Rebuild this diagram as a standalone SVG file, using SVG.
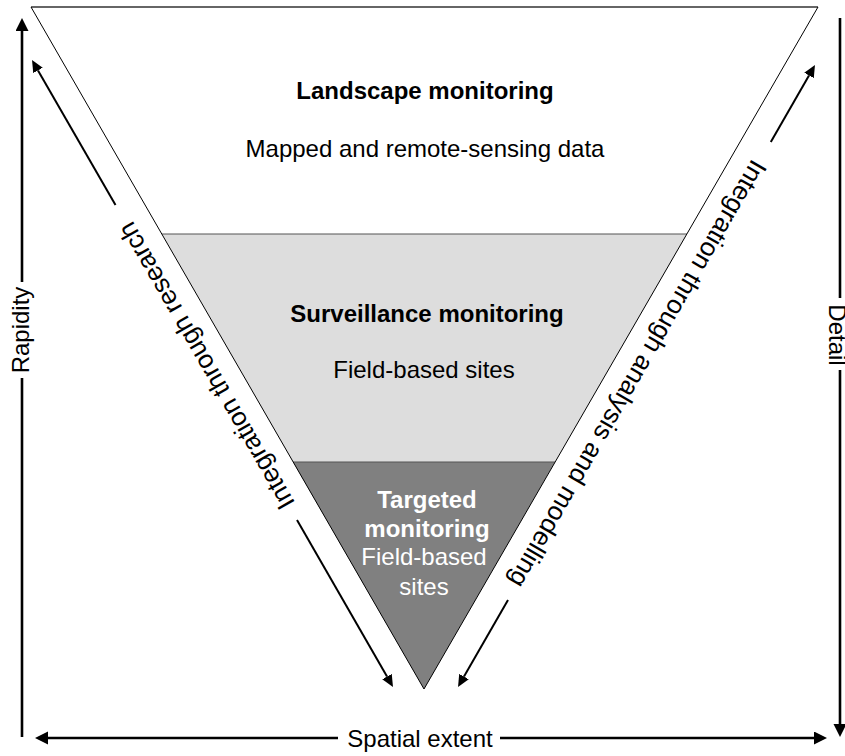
<svg xmlns="http://www.w3.org/2000/svg" width="845" height="756" viewBox="0 0 845 756">
<style>
text{font-family:"Liberation Sans",Arial,sans-serif;font-size:24px;fill:#000}
.b{font-weight:bold}
.w{fill:#fff}
.m{text-anchor:middle}
.d{font-size:26px}
.edge{fill:none;stroke:#000;stroke-width:1}
.div{fill:none;stroke:#555;stroke-width:1.2}
.ax{fill:none;stroke:#000;stroke-width:2.6}
.dg{fill:none;stroke:#000;stroke-width:2}
</style>
<defs>
<marker id="ah" markerUnits="userSpaceOnUse" markerWidth="14" markerHeight="14" refX="0" refY="6.5" orient="auto"><path d="M0,0 L13,6.5 L0,13 z" fill="#000"/></marker>
<marker id="ad" markerUnits="userSpaceOnUse" markerWidth="13" markerHeight="12" refX="0" refY="5.5" orient="auto"><path d="M0,0 L12,5.5 L0,11 z" fill="#000"/></marker>
</defs>
<g id="landscape">
<polygon points="31,7 818,7 687,234 162,234" fill="#fff"/>
<text class="b m" x="425" y="99">Landscape monitoring</text>
<text class="m" x="425" y="157">Mapped and remote-sensing data</text>
</g>
<g id="surveillance">
<polygon points="162,234 687,234 555,462 293,462" fill="#dddddd"/>
<text class="b m" x="427" y="322">Surveillance monitoring</text>
<text class="m" x="424" y="378">Field-based sites</text>
</g>
<g id="targeted">
<polygon points="293,462 555,462 424,689" fill="#808080"/>
<text class="b m w" x="427" y="508">Targeted</text>
<text class="b m w" x="427" y="537">monitoring</text>
<text class="m w" x="424" y="565">Field-based</text>
<text class="m w" x="424" y="595">sites</text>
</g>
<g id="outline">
<line class="div" x1="162" y1="234" x2="687" y2="234"/>
<line class="div" x1="293" y1="462" x2="555" y2="462"/>
<line x1="31" y1="7" x2="818" y2="7" stroke="#333" stroke-width="1.5"/>
<polyline class="edge" points="31,7 424,689 818,7"/>
</g>
<g id="connectors">
<path class="ax" d="M22,282 V31" marker-end="url(#ah)"/>
<path class="ax" d="M22,378 V737"/>
<path class="ax" d="M840,18 V298"/>
<path class="ax" d="M840,370 V724" marker-end="url(#ah)"/>
<path class="ax" d="M338,738 H48" marker-end="url(#ah)"/>
<path class="ax" d="M500,738 H814" marker-end="url(#ah)"/>
<path class="dg" d="M115.5,205 L38,70.4" marker-end="url(#ad)"/>
<path class="dg" d="M297,520 L387,676.6" marker-end="url(#ad)"/>
<path class="dg" d="M770.8,142 L809,75.4" marker-end="url(#ad)"/>
<path class="dg" d="M508,600 L464,676.6" marker-end="url(#ad)"/>
</g>
<g id="labels">
<text class="m" transform="translate(29,330) rotate(-90)">Rapidity</text>
<text class="m" transform="translate(829,335) rotate(90)">Detail</text>
<text class="m" x="420" y="747">Spatial extent</text>
<text class="m d" dy="0.35em" transform="translate(206,366) rotate(-120)">Integration through research</text>
<text class="m d" dy="0.35em" transform="translate(638,374) rotate(120)">Integration through analysis and modelling</text>
</g>
</svg>
